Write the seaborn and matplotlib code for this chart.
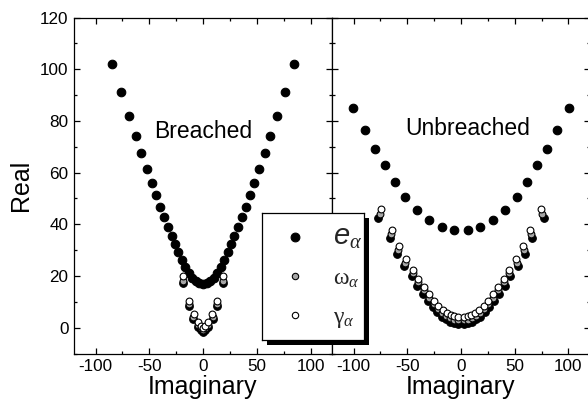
import numpy as np
import pandas as pd
import seaborn as sns
import matplotlib
matplotlib.use("Agg")
import matplotlib.pyplot as plt
from matplotlib.lines import Line2D
from matplotlib.patches import Rectangle
from matplotlib.ticker import MultipleLocator

# ---------------- data ----------------
# Breached panel: upper branch of e_alpha
br_e_up_x = [-85, -76, -68.5, -62.6, -57.4, -52.2, -47.9, -43.9, -40, -36.4, -32.8, -29.3, -26, -22.8,
             -19.5, -16.3, -13.1, -9.9, -6.6, -3.3, 0, 3.3, 6.6, 9.9, 13.1, 16.3, 19.5, 22.8, 26, 29.3,
             32.8, 36.4, 40, 43.9, 47.9, 52.2, 57.4, 62.6, 68.5, 76, 85]
br_e_up_y = [102, 91, 82, 74.2, 67.6, 61.5, 56.1, 51.3, 46.8, 42.8, 39, 35.6, 32.3, 29.3,
             26.2, 23.4, 21.2, 19.3, 18.0, 17.2, 17.0, 17.2, 18.0, 19.3, 21.2, 23.4, 26.2, 29.3, 32.3, 35.6,
             39, 42.8, 46.8, 51.3, 56.1, 61.5, 67.6, 74.2, 82, 91, 102]
# Breached panel: lower cluster
br_low_x = [-18.8, -13.1, -9.0, -4.8, -2.3, 0, 2.3, 4.8, 9.0, 13.1, 18.8]
br_e_low_y = [17.2, 8.3, 3.3, 0.3, -1.0, -1.5, -1.0, 0.3, 3.3, 8.3, 17.2]
br_w_x = [-18.6, -12.9, -8.9, -4.7, -2.2, 0, 2.2, 4.7, 8.9, 12.9, 18.6]
br_w_y = [18.0, 9.0, 4.0, 1.0, -0.3, -0.8, -0.3, 1.0, 4.0, 9.0, 18.0]
br_g_x = [-18.4, -12.8, -8.8, -4.6, -2.2, 0, 2.2, 4.6, 8.8, 12.8, 18.4]
br_g_y = [20.0, 10.4, 5.1, 2.0, 0.6, 0.0, 0.6, 2.0, 5.1, 10.4, 20.0]

# Unbreached panel: upper branch of e_alpha
un_e_up_x = [-100.6, -89.4, -79.9, -70.8, -61.6, -51.7, -41.1, -29.4, -17.9, -6.2,
             6.2, 17.9, 29.4, 41.1, 51.7, 61.6, 70.8, 79.9, 89.4, 100.6]
un_e_up_y = [84.9, 76.6, 69.1, 62.8, 56.2, 50.4, 45.4, 41.5, 39.0, 37.7,
             37.7, 39.0, 41.5, 45.4, 50.4, 56.2, 62.8, 69.1, 76.6, 84.9]
# Unbreached panel: lower branch
un_e_low_x = [-76.8, -66.2, -59.8, -52.8, -45.8, -41.0, -35.3, -30.4, -26.0, -21.9, -17.7, -13.9, -10.1, -6.5, -2.7,
              2.7, 6.5, 10.1, 13.9, 17.7, 21.9, 26.0, 30.4, 35.3, 41.0, 45.8, 52.8, 59.8, 66.2, 76.8]
un_e_low_y = [42.5, 34.6, 28.5, 23.8, 19.8, 16.3, 13.2, 10.3, 7.8, 5.9, 4.3, 3.2, 2.3, 1.8, 1.5,
              1.5, 1.8, 2.3, 3.2, 4.3, 5.9, 7.8, 10.3, 13.2, 16.3, 19.8, 23.8, 28.5, 34.6, 42.5]
un_w_x = [-75.5, -65.1, -58.8, -51.9, -45.0, -40.3, -34.7, -29.9, -25.5, -21.5, -17.3, -13.6, -9.8, -6.3, -2.6,
          2.6, 6.3, 9.8, 13.6, 17.3, 21.5, 25.5, 29.9, 34.7, 40.3, 45.0, 51.9, 58.8, 65.1, 75.5]
un_w_y = [43.9, 36.1, 29.9, 25.1, 21.1, 17.5, 14.4, 11.5, 9.0, 7.1, 5.5, 4.4, 3.6, 3.1, 2.8,
          2.8, 3.1, 3.6, 4.4, 5.5, 7.1, 9.0, 11.5, 14.4, 17.5, 21.1, 25.1, 29.9, 36.1, 43.9]
un_g_x = [-74.3, -64.1, -57.9, -51.1, -44.3, -39.6, -34.1, -29.4, -25.1, -21.1, -17.0, -13.3, -9.6, -6.2, -2.5,
          2.5, 6.2, 9.6, 13.3, 17.0, 21.1, 25.1, 29.4, 34.1, 39.6, 44.3, 51.1, 57.9, 64.1, 74.3]
un_g_y = [45.9, 37.9, 31.5, 26.6, 22.5, 18.9, 15.8, 12.9, 10.3, 8.4, 6.8, 5.7, 4.9, 4.4, 4.1,
          4.1, 4.4, 4.9, 5.7, 6.8, 8.4, 10.3, 12.9, 15.8, 18.9, 22.5, 26.6, 31.5, 37.9, 45.9]

x_ticks = [-100, -50, 0, 50, 100]
y_ticks = [0, 20, 40, 60, 80, 100, 120]
legend_labels = [r"$\mathsf{e}_{\alpha}$", r"$\mathrm{\omega}_{\alpha}$", r"$\mathrm{\gamma}_{\alpha}$"]
panel_titles = ["Breached", "Unbreached"]

# ---------------- style ----------------
sns.set_theme(style="ticks")
plt.rcParams["font.family"] = ["Liberation Sans", "DejaVu Sans"]
plt.rcParams["axes.unicode_minus"] = False
plt.rcParams["mathtext.fontset"] = "custom"
plt.rcParams["mathtext.rm"] = "Liberation Serif"
plt.rcParams["mathtext.it"] = "Liberation Serif:italic"
plt.rcParams["mathtext.sf"] = "Liberation Sans:italic"

C_E, C_W, C_G = "black", "#a6a6a6", "white"
S_E, S_S = 38, 24

fig = plt.figure(figsize=(5.88, 4.09), dpi=100)
W, H = 588.0, 409.0
ax1 = fig.add_axes([74 / W, (H - 353.5) / H, 258 / W, 336 / H])
ax2 = fig.add_axes([332 / W, (H - 353.5) / H, 258 / W, 336 / H])


def pts(ax, x, y, fc, s):
    sns.scatterplot(x=x, y=y, ax=ax, color=fc, edgecolor="black", linewidth=0.8,
                    s=s, legend=False, zorder=3, clip_on=False)


pts(ax1, br_e_up_x, br_e_up_y, C_E, S_E)
pts(ax1, br_low_x, br_e_low_y, C_E, S_S + 6)
pts(ax1, br_w_x, br_w_y, C_W, S_S)
pts(ax1, br_g_x, br_g_y, C_G, S_S)

pts(ax2, un_e_up_x, un_e_up_y, C_E, S_E)
pts(ax2, un_e_low_x, un_e_low_y, C_E, S_S + 6)
pts(ax2, un_w_x, un_w_y, C_W, S_S)
pts(ax2, un_g_x, un_g_y, C_G, S_S)

for ax in (ax1, ax2):
    ax.set_xlim(-120, 120)
    ax.set_ylim(-10, 120)
    ax.set_xticks(x_ticks)
    ax.set_yticks(y_ticks)
    ax.xaxis.set_minor_locator(MultipleLocator(25))
    ax.yaxis.set_minor_locator(MultipleLocator(10))
    ax.tick_params(which="both", direction="in", top=True, right=True,
                   width=0.9, color="black", labelsize=12.3, pad=4, labelcolor="black")
    ax.tick_params(which="major", length=4.5)
    ax.tick_params(which="minor", length=2.3)
    for sp in ax.spines.values():
        sp.set_color("black")
        sp.set_linewidth(0.9)
    ax.set_xlabel("Imaginary", fontsize=18, labelpad=1, color="black")
    ax.set_facecolor("white")

ax1.set_ylabel("Real", fontsize=18, labelpad=5, color="black")
ax2.set_ylabel("")
ax2.tick_params(labelleft=False)

ax1.text(0, 76, panel_titles[0], fontsize=16.5, ha="center", va="center", color="black")
ax2.text(6, 77, panel_titles[1], fontsize=16.5, ha="center", va="center", color="black")

# ---------------- legend box with hard shadow ----------------
shadow = Rectangle((267 / W, (H - 345) / H), 102 / W, 127 / H, transform=fig.transFigure,
                   facecolor="black", edgecolor="none", zorder=4)
fig.add_artist(shadow)
axL = fig.add_axes([262 / W, (H - 340) / H, 102 / W, 127 / H], zorder=5)
axL.set_xticks([])
axL.set_yticks([])
axL.set_facecolor("white")
for sp in axL.spines.values():
    sp.set_color("black")
    sp.set_linewidth(0.9)

handles = [
    Line2D([], [], ls="", marker="o", markersize=6.3, markerfacecolor=C_E, markeredgecolor="black", markeredgewidth=0.8),
    Line2D([], [], ls="", marker="o", markersize=4.6, markerfacecolor=C_W, markeredgecolor="black", markeredgewidth=0.8),
    Line2D([], [], ls="", marker="o", markersize=4.6, markerfacecolor=C_G, markeredgecolor="black", markeredgewidth=0.8),
]
leg = axL.legend(handles, legend_labels, loc="center left", bbox_to_anchor=(0.206, 0.5),
                 frameon=False, fontsize=17, borderpad=0,
                 handlelength=1.0, handletextpad=1.1, labelspacing=0.68, borderaxespad=0)
leg.get_texts()[0].set_fontsize(21)

fig.savefig("out.png", dpi=100, facecolor="white")
